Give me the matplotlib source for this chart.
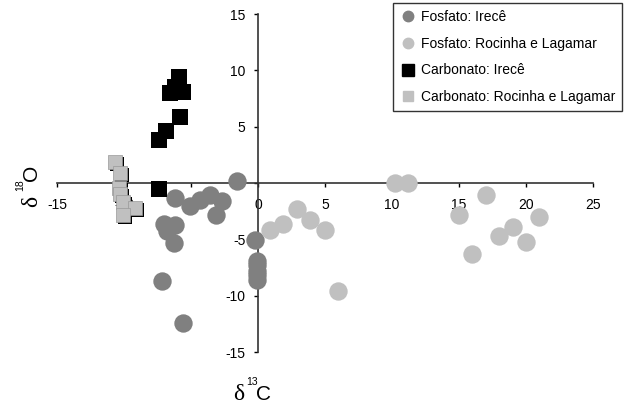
import matplotlib
matplotlib.use("Agg")
import matplotlib.pyplot as plt
from matplotlib.lines import Line2D
from matplotlib.transforms import ScaledTranslation

plt.rcParams['font.family'] = ['Liberation Sans', 'DejaVu Sans']
plt.rcParams['axes.unicode_minus'] = False

# Fosfato: Irecê
fi_x = [-1.6, -6.2, -5.1, -4.3, -3.6, -2.7, -3.1, -7.0, -6.2, -6.8, -6.3, -7.2, -5.6,
        -0.2, -0.1, -0.1, -0.1, -0.1, -0.1]
fi_y = [0.15, -1.35, -2.0, -1.5, -1.05, -1.6, -2.85, -3.6, -3.7, -4.3, -5.35, -8.7, -12.4,
        -5.05, -6.9, -7.3, -7.8, -8.2, -8.6]
# Fosfato: Rocinha e Lagamar
fr_x = [0.9, 1.9, 2.9, 3.9, 5.0, 6.0, 10.2, 11.2, 17.0, 15.0, 21.0, 19.0, 18.0, 20.0, 16.0]
fr_y = [-4.2, -3.6, -2.3, -3.3, -4.2, -9.6, 0.0, 0.0, -1.05, -2.8, -3.05, -3.9, -4.7, -5.2, -6.3]
# Carbonato: Irecê
ci_x = [-5.9, -6.2, -6.6, -5.6, -5.8, -6.9, -7.4, -7.4]
ci_y = [9.4, 8.5, 8.0, 8.1, 5.9, 4.6, 3.8, -0.5]
# Carbonato: Rocinha e Lagamar
cr_x = [-10.7, -10.3, -10.35, -10.3, -10.1, -9.2, -10.05]
cr_y = [1.9, 0.85, -0.45, -1.0, -1.7, -2.2, -2.8]

labels = ['Fosfato: Irecê', 'Fosfato: Rocinha e Lagamar',
          'Carbonato: Irecê', 'Carbonato: Rocinha e Lagamar']
xticks = [-15, -10, -5, 0, 5, 10, 15, 20, 25]
yticks = [-15, -10, -5, 0, 5, 10, 15]

dark = '#808080'
light = '#c0c0c0'

W, H = 627, 407
fig = plt.figure(figsize=(W/100, H/100), dpi=100)
ax = fig.add_axes([57/W, 55/H, 536/W, 338/H])
ax.set_xlim(-15, 25)
ax.set_ylim(-15, 15)
for s in ['top', 'right']:
    ax.spines[s].set_visible(False)
ax.spines['left'].set_position(('data', 0))
ax.spines['bottom'].set_position(('data', 0))
for s in ['left', 'bottom']:
    ax.spines[s].set_color('#333333')
    ax.spines[s].set_linewidth(1.2)
ax.set_xticks(xticks)
ax.set_yticks(yticks)
ax.tick_params(axis='x', direction='out', length=3, width=1, pad=8, labelsize=10)
ax.tick_params(axis='y', direction='out', length=3, width=1, pad=6, labelsize=10)

ax.scatter(fi_x, fi_y, s=175, marker='o', color=dark, linewidths=0, zorder=3)
ax.scatter(fr_x, fr_y, s=175, marker='o', color=light, linewidths=0, zorder=3)
ax.scatter(ci_x, ci_y, s=120, marker='s', color='black', linewidths=0, zorder=3)
shadow = ax.transData + ScaledTranslation(2/100, -2/100, fig.dpi_scale_trans)
ax.scatter(cr_x, cr_y, s=95, marker='s', color='black', linewidths=0, zorder=3,
           transform=shadow)
ax.scatter(cr_x, cr_y, s=95, marker='s', color=light, edgecolors='#999999',
           linewidths=0.5, zorder=3.1)

handles = [
    Line2D([], [], ls='', marker='o', color=dark, markersize=7.5),
    Line2D([], [], ls='', marker='o', color=light, markersize=7.5),
    Line2D([], [], ls='', marker='s', color='black', markersize=9),
    Line2D([], [], ls='', marker='s', color=light, markersize=7.5),
]
leg = fig.legend(handles, labels, loc='upper right',
                 bbox_to_anchor=(622/W, 1 - 3/H), fontsize=10,
                 frameon=True, fancybox=False, edgecolor='black',
                 handlelength=1.2, handletextpad=0.3, labelspacing=0.92,
                 borderpad=0.5, borderaxespad=0)
leg.get_frame().set_linewidth(1.0)

serif = ['Liberation Serif', 'DejaVu Serif']
# x axis label: δ13C
fig.text(244/W, 1 - 400/H, 'δ', fontsize=17, family=serif, ha='right', va='baseline')
fig.text(246/W, 1 - 385/H, '13', fontsize=7.5, ha='left', va='baseline')
fig.text(256/W, 1 - 400/H, 'C', fontsize=15, ha='left', va='baseline')
# y axis label: δ18O (rotated)
fig.text(37/W, 1 - 207/H, 'δ', fontsize=17, family=serif, rotation=90,
         rotation_mode='anchor', ha='left', va='baseline')
fig.text(23/W, 1 - 191/H, '18', fontsize=7.5, rotation=90, rotation_mode='anchor',
         ha='left', va='baseline')
fig.text(37/W, 1 - 181/H, 'O', fontsize=15, rotation=90, rotation_mode='anchor',
         ha='left', va='baseline')

fig.savefig('out.png', dpi=100)
